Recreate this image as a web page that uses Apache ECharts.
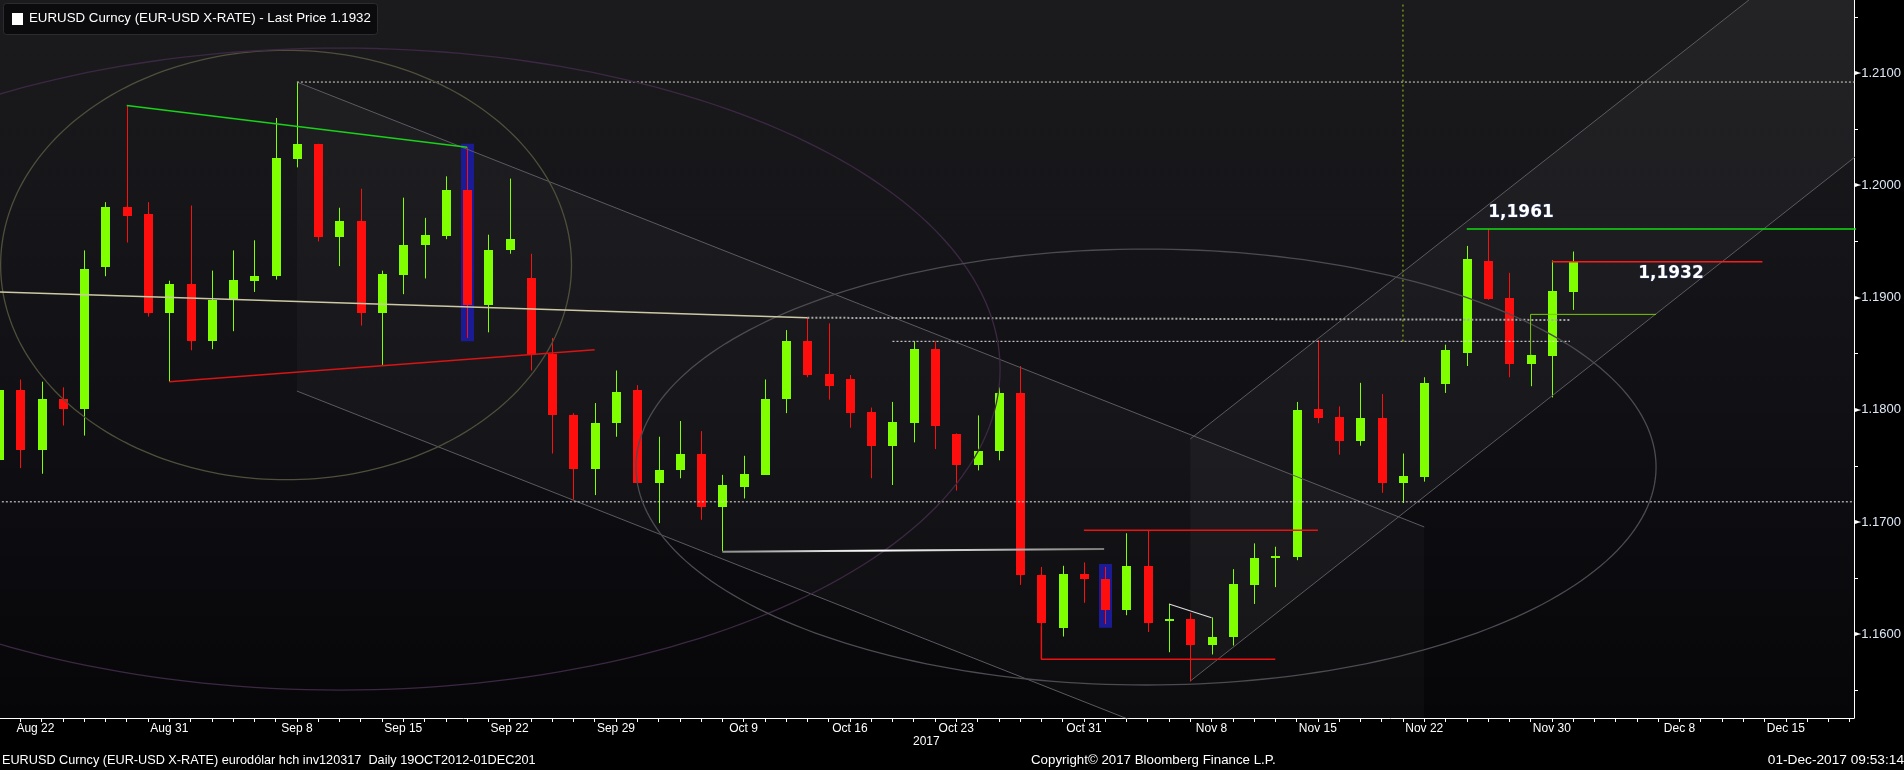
<!DOCTYPE html>
<html><head><meta charset="utf-8">
<script src="https://cdn.jsdelivr.net/npm/echarts@6/dist/echarts.min.js"></script>
<style>html,body{margin:0;padding:0;background:#000;}#c{width:1904px;height:770px;}</style>
</head><body><div id="c"></div>
<script>
// ---------- DATA ----------
const dates = ['Aug 21','Aug 22','Aug 23','Aug 24','Aug 25','Aug 28','Aug 29','Aug 30','Aug 31',
'Sep 1','Sep 4','Sep 5','Sep 6','Sep 7','Sep 8','Sep 11','Sep 12','Sep 13','Sep 14','Sep 15','Sep 18','Sep 19','Sep 20','Sep 21','Sep 22','Sep 25','Sep 26','Sep 27','Sep 28','Sep 29',
'Oct 2','Oct 3','Oct 4','Oct 5','Oct 6','Oct 9','Oct 10','Oct 11','Oct 12','Oct 13','Oct 16','Oct 17','Oct 18','Oct 19','Oct 20','Oct 23','Oct 24','Oct 25','Oct 26','Oct 27','Oct 30','Oct 31',
'Nov 1','Nov 2','Nov 3','Nov 6','Nov 7','Nov 8','Nov 9','Nov 10','Nov 13','Nov 14','Nov 15','Nov 16','Nov 17','Nov 20','Nov 21','Nov 22','Nov 23','Nov 24','Nov 27','Nov 28','Nov 29','Nov 30',
'Dec 1','Dec 4','Dec 5','Dec 6','Dec 7','Dec 8','Dec 11','Dec 12','Dec 13','Dec 14','Dec 15','Dec 18','Dec 19','Dec 20'];
const open  = [1.1755,1.1818,1.1764,1.1810,1.1801,1.1927,1.1981,1.1974,1.1886,1.1912,1.1861,1.1898,1.1915,1.1919,1.2023,1.2037,1.1954,1.1968,1.1886,1.1920,1.1947,1.1955,1.1996,1.1893,1.1942,1.1917,1.1850,1.1795,1.1747,1.1788,1.1818,1.1735,1.1746,1.1761,1.1713,1.1731,1.1742,1.1810,1.1861,1.1832,1.1827,1.1798,1.1768,1.1788,1.1854,1.1778,1.1751,1.1763,1.1815,1.1653,1.1606,1.1654,1.1649,1.1622,1.1661,1.1612,1.1614,1.1590,1.1598,1.1644,1.1669,1.1669,1.1801,1.1794,1.1772,1.1793,1.1735,1.1740,1.1823,1.1851,1.1933,1.1900,1.1841,1.1848,1.1905];
const close = [1.1818,1.1764,1.1810,1.1801,1.1925,1.1981,1.1973,1.1886,1.1912,1.1861,1.1898,1.1916,1.1919,1.2024,1.2037,1.1954,1.1968,1.1886,1.1921,1.1947,1.1956,1.1996,1.1893,1.1942,1.1952,1.1849,1.1795,1.1747,1.1788,1.1816,1.1735,1.1746,1.1761,1.1713,1.1733,1.1743,1.1810,1.1861,1.1831,1.1821,1.1797,1.1768,1.1789,1.1854,1.1786,1.1751,1.1763,1.1815,1.1653,1.1610,1.1654,1.1649,1.1622,1.1661,1.1610,1.1614,1.1590,1.1598,1.1645,1.1668,1.1670,1.1800,1.1793,1.1772,1.1793,1.1735,1.1741,1.1824,1.1853,1.1934,1.1899,1.1841,1.1849,1.1906,1.1932];
const low   = [1.1735,1.1748,1.1743,1.1786,1.1777,1.1919,1.1949,1.1883,1.1825,1.1853,1.1854,1.1870,1.1905,1.1916,1.2016,1.1950,1.1928,1.1875,1.1840,1.1903,1.1917,1.1952,1.1864,1.1869,1.1939,1.1835,1.1761,1.1720,1.1724,1.1776,1.1734,1.1699,1.1739,1.1702,1.1674,1.1721,1.1742,1.1797,1.1829,1.1809,1.1784,1.1739,1.1733,1.1771,1.1765,1.1728,1.1746,1.1755,1.1644,1.1608,1.1598,1.1628,1.1609,1.1617,1.1602,1.1584,1.1558,1.1582,1.1590,1.1627,1.1642,1.1666,1.1788,1.1760,1.1768,1.1726,1.1717,1.1736,1.1815,1.1839,1.1898,1.1829,1.1821,1.1811,1.1889];
const high  = [1.1830,1.1827,1.1825,1.1820,1.1942,1.1985,1.2071,1.1985,1.1915,1.1982,1.1924,1.1942,1.1951,1.2060,1.2092,1.2037,1.1980,1.1997,1.1924,1.1989,1.1971,1.2008,1.2034,1.1956,1.2006,1.1939,1.1864,1.1797,1.1806,1.1835,1.1822,1.1776,1.1790,1.1781,1.1742,1.1759,1.1827,1.1871,1.1882,1.1877,1.1831,1.1802,1.1807,1.1861,1.1861,1.1779,1.1795,1.1820,1.1839,1.1660,1.1661,1.1664,1.1660,1.1690,1.1692,1.1627,1.1619,1.1615,1.1658,1.1681,1.1678,1.1807,1.1862,1.1803,1.1824,1.1814,1.1761,1.1829,1.1858,1.1946,1.1961,1.1922,1.1849,1.1933,1.1941];
const xTickLabels = ['Aug 22','Aug 31','Sep 8','Sep 15','Sep 22','Sep 29','Oct 9','Oct 16','Oct 23','Oct 31','Nov 8','Nov 15','Nov 22','Nov 30','Dec 8','Dec 15'];
const yTickLabels = [1.16,1.17,1.18,1.19,1.20,1.21];
const yMinorTicks = [1.155,1.16,1.165,1.17,1.175,1.18,1.185,1.19,1.195,1.20,1.205,1.21,1.215];

// annotations (date index, price)
const trendGreen   = [[6,1.2071],[22,1.2034]];
const trendRed     = [[8,1.1825],[28,1.18535]];
const trendBeige   = [[0,1.1905],[38,1.1882]];
const dotHigh      = [[14,1.2092],[88,1.2092]];
const dotOct12     = [[38,1.1882],[73.85,1.1880]];
const dotOct20     = [[42,1.1861],[73.85,1.1861]];
const dotFull      = [[-1,1.1718],[88,1.1718]];
const vDotGreen    = [[66,1.2161],[66,1.1860]];
const level1961    = [[69,1.1961],[88,1.1961]];
const level1932    = [[73,1.1932],[82.9,1.1932]];
const greenBracket = [[72,1.1849],[72,1.1885],[77.9,1.1885]];
const redBracketLo = [[49,1.1608],[49,1.15777],[60,1.15777]];
const redLineHi    = [[51,1.16926],[62,1.16926]];
const whiteOct6    = [[34,1.16735],[51.95,1.16759]];
const whiteNov6    = [[55,1.1627],[57,1.16147]];
const descTop      = [[14,1.2092],[67,1.16956]];
const descBot      = [[14,1.18167],[67,1.14203]];
const ascTop       = [[56,1.1774],[90,1.22803]];
const ascBot       = [[56,1.15583],[90,1.20663]];
const highlightBoxes = [[22,1.2037,1.1861],[52,1.16626,1.16058]];
const ellipses     = [[13.49,1.1929,13.42,0.01913],[16.03,1.18363,31.03,0.0286],[53.92,1.1749,23.98,0.01942]];
const levelLabelText = ['1,1961','1,1932'];
const levelLabelPos  = [[71.55,1.1976],[78.6,1.19218]];

// ---------- LAYOUT ----------
const BAND = 21.27, X1 = 20.4, PLOT_W = 1854;
const XMIN = 1 - X1 / BAND, XMAX = XMIN + PLOT_W / BAND;
const GREEN = '#80ff00', RED = '#ff0e0e';
const ELL_COLORS = ['#4f4f3c', '#3d2843', '#4b4b50'];
const FONT = 'Liberation Sans, Arial, sans-serif';

const chart = echarts.init(document.getElementById('c'), null, {renderer: 'canvas'});

function lineSeries(data, color, width, type, z) {
  return {type: 'line', data: data, symbol: 'none', silent: true, clip: true, z: z || 5,
    lineStyle: {color: color, width: width, type: type || 'solid'}, animation: false};
}

const candleData = open.map((o, i) => [i, o, close[i], low[i], high[i]]);

const option = {
  backgroundColor: '#000',
  animation: false,
  grid: {left: 0, right: 1904 - PLOT_W, top: 0, bottom: 52, show: true, borderWidth: 0,
    backgroundColor: {type: 'linear', x: 0, y: 0, x2: 0, y2: 1,
      colorStops: [{offset: 0, color: '#1b1b1e'}, {offset: 0.55, color: '#111115'}, {offset: 1, color: '#060609'}]}},
  xAxis: {type: 'value', min: XMIN, max: XMAX,
    axisLine: {show: true, lineStyle: {color: '#ffffff', width: 1}},
    axisTick: {show: true, length: 4, lineStyle: {color: '#ffffff'}, customValues: dates.map((d, i) => i)},
    axisLabel: {show: true, color: '#ffffff', fontSize: 12, fontFamily: FONT, margin: 5,
      customValues: xTickLabels.map(t => dates.indexOf(t)),
      formatter: v => { const t = dates[Math.round(v)]; return t === 'Aug 22' ? '{s|' + t + '}' : t; },
      rich: {s: {color: '#ffffff', fontSize: 12, fontFamily: FONT, padding: [0, 0, 0, 30]}}},
    splitLine: {show: false}},
  yAxis: {type: 'value', position: 'right', min: 1.15254, max: 1.21651,
    axisLine: {show: true, lineStyle: {color: '#ffffff', width: 1}},
    axisTick: {show: true, length: 4, lineStyle: {color: '#ffffff'}, customValues: yMinorTicks},
    axisLabel: {show: true, margin: 1, customValues: yTickLabels,
      formatter: v => '{a|\u25BA}{b|' + v.toFixed(4) + '}',
      rich: {a: {color: '#ffffff', fontSize: 8, fontFamily: 'DejaVu Sans'},
             b: {color: '#dce7f6', fontSize: 13, fontFamily: FONT}}},
    splitLine: {show: false}},
  series: [
    // shaded channels
    {type: 'custom', clip: true, silent: true, z: 1, data: [[0]], encode: {x: 0, y: 0},
      renderItem: (params, api) => ({type: 'group', children: [
        {type: 'polygon', shape: {points: [descTop[0], descTop[1], descBot[1], descBot[0]].map(p => api.coord(p))},
          style: {fill: 'rgba(255,255,255,0.028)'}},
        {type: 'polygon', shape: {points: [ascTop[0], ascTop[1], ascBot[1], ascBot[0]].map(p => api.coord(p))},
          style: {fill: 'rgba(255,255,255,0.035)'}}
      ]})},
    // highlight boxes
    {type: 'custom', clip: true, silent: true, z: 2, data: highlightBoxes, encode: {x: 0, y: 1},
      renderItem: (params, api) => {
        const a = api.coord([api.value(0), api.value(1)]), b = api.coord([api.value(0), api.value(2)]);
        return {type: 'rect', shape: {x: Math.round(a[0]) - 6, y: a[1], width: 13, height: b[1] - a[1]},
          style: {fill: '#1b1b95'}};
      }},
    // candles
    {type: 'custom', clip: true, silent: true, z: 3, data: candleData, encode: {x: 0, y: [1, 2, 3, 4]},
      renderItem: (params, api) => {
        const i = api.value(0), o = api.value(1), c = api.value(2), l = api.value(3), h = api.value(4);
        const pO = api.coord([i, o]), pC = api.coord([i, c]), pL = api.coord([i, l]), pH = api.coord([i, h]);
        const col = c >= o ? GREEN : RED;
        const cx = Math.round(pO[0]);
        const top = Math.round(Math.min(pO[1], pC[1])), bot = Math.round(Math.max(pO[1], pC[1]));
        return {type: 'group', children: [
          {type: 'line', shape: {x1: cx + 0.5, y1: pH[1], x2: cx + 0.5, y2: pL[1]}, style: {stroke: col, lineWidth: 1}},
          {type: 'rect', shape: {x: cx - 4, y: top, width: 9, height: Math.max(2, bot - top)}, style: {fill: col}}
        ]};
      }},
    // ellipses
    {type: 'custom', clip: true, silent: true, z: 6, data: ellipses, encode: {x: 0, y: 1},
      renderItem: (params, api) => {
        const cx = api.value(0), cy = api.value(1), rx = api.value(2), ry = api.value(3);
        const pts = [];
        for (let k = 0; k <= 240; k++) {
          const t = k / 240 * Math.PI * 2;
          pts.push(api.coord([cx + rx * Math.cos(t), cy + ry * Math.sin(t)]));
        }
        return {type: 'polyline', shape: {points: pts},
          style: {fill: null, stroke: ELL_COLORS[params.dataIndex], lineWidth: 1.3}};
      }},
    lineSeries(descTop, '#5b5b60', 1),
    lineSeries(descBot, '#5b5b60', 1),
    lineSeries(ascTop, '#5b5b60', 1),
    lineSeries(ascBot, '#5b5b60', 1),
    lineSeries(trendGreen, '#19d219', 1.5, 'solid', 7),
    lineSeries(trendRed, '#d81414', 1.5, 'solid', 7),
    lineSeries(trendBeige, '#cdc9a6', 1.5, 'solid', 7),
    lineSeries(dotHigh, '#d8d8c8', 1, [2, 2]),
    lineSeries(dotOct12, '#a8a8a8', 2, [2, 2]),
    lineSeries(dotOct20, '#e8e8e8', 1, [2, 2]),
    lineSeries(dotFull, '#e8e8e8', 1, [2, 2]),
    lineSeries(vDotGreen, '#9acc10', 1, [2, 3]),
    lineSeries(level1961, '#10dd10', 1.5, 'solid', 7),
    lineSeries(level1932, '#ff1a1a', 1.5, 'solid', 7),
    lineSeries(greenBracket, '#78c800', 1, 'solid', 7),
    lineSeries(redBracketLo, '#ee1111', 1.5, 'solid', 7),
    lineSeries(redLineHi, '#ee1111', 1.5, 'solid', 7),
    {type: 'line', data: whiteOct6, symbol: 'none', silent: true, z: 7,
      lineStyle: {width: 2, color: {type: 'linear', x: 0, y: 0, x2: 1, y2: 0,
        colorStops: [{offset: 0, color: '#8a8a8a'}, {offset: 0.4, color: '#ffffff'}, {offset: 1, color: '#7a7a7a'}]}}},
    lineSeries(whiteNov6, '#dddddd', 1.2, 'solid', 7),
    // level labels
    {type: 'custom', clip: false, silent: true, z: 9, data: levelLabelPos, encode: {x: 0, y: 1},
      renderItem: (params, api) => {
        const p = api.coord([api.value(0), api.value(1)]);
        return {type: 'text', x: p[0], y: p[1], style: {text: levelLabelText[params.dataIndex],
          fill: '#ffffff', font: 'bold 17px DejaVu Sans', align: 'center', verticalAlign: 'middle',
          stroke: 'rgba(50,70,150,0.55)', lineWidth: 1}};
      }}
  ],
  graphic: [
    {type: 'rect', left: 3, top: 3, shape: {width: 374, height: 31, r: 3}, z: 50,
      style: {fill: '#0b0b0e', stroke: '#2c2c30', lineWidth: 1}},
    {type: 'rect', left: 12, top: 13, shape: {width: 11, height: 12}, z: 51, style: {fill: '#ffffff'}},
    {type: 'text', left: 29, top: 12, z: 51, style: {text: 'EURUSD Curncy (EUR-USD X-RATE) - Last Price 1.1932',
      fill: '#ffffff', font: '13.3px Liberation Sans, Arial, sans-serif'}},
    {type: 'text', left: 913, top: 736, z: 51, style: {text: '2017', fill: '#ffffff', font: '12px Liberation Sans, Arial, sans-serif'}},
    {type: 'text', left: 2, top: 754, z: 51, style: {text: 'EURUSD Curncy (EUR-USD X-RATE) eurod\u00f3lar hch inv120317  Daily 19OCT2012-01DEC201',
      fill: '#ffffff', font: '12.7px Liberation Sans, Arial, sans-serif'}},
    {type: 'text', left: 1031, top: 754, z: 51, style: {text: 'Copyright\u00a9 2017 Bloomberg Finance L.P.',
      fill: '#ffffff', font: '13.3px Liberation Sans, Arial, sans-serif'}},
    {type: 'text', right: 0, top: 753, z: 51, style: {text: '01-Dec-2017 09:53:14',
      fill: '#ffffff', font: '13.7px Liberation Sans, Arial, sans-serif'}}
  ]
};
chart.setOption(option);
</script>
</body></html>
